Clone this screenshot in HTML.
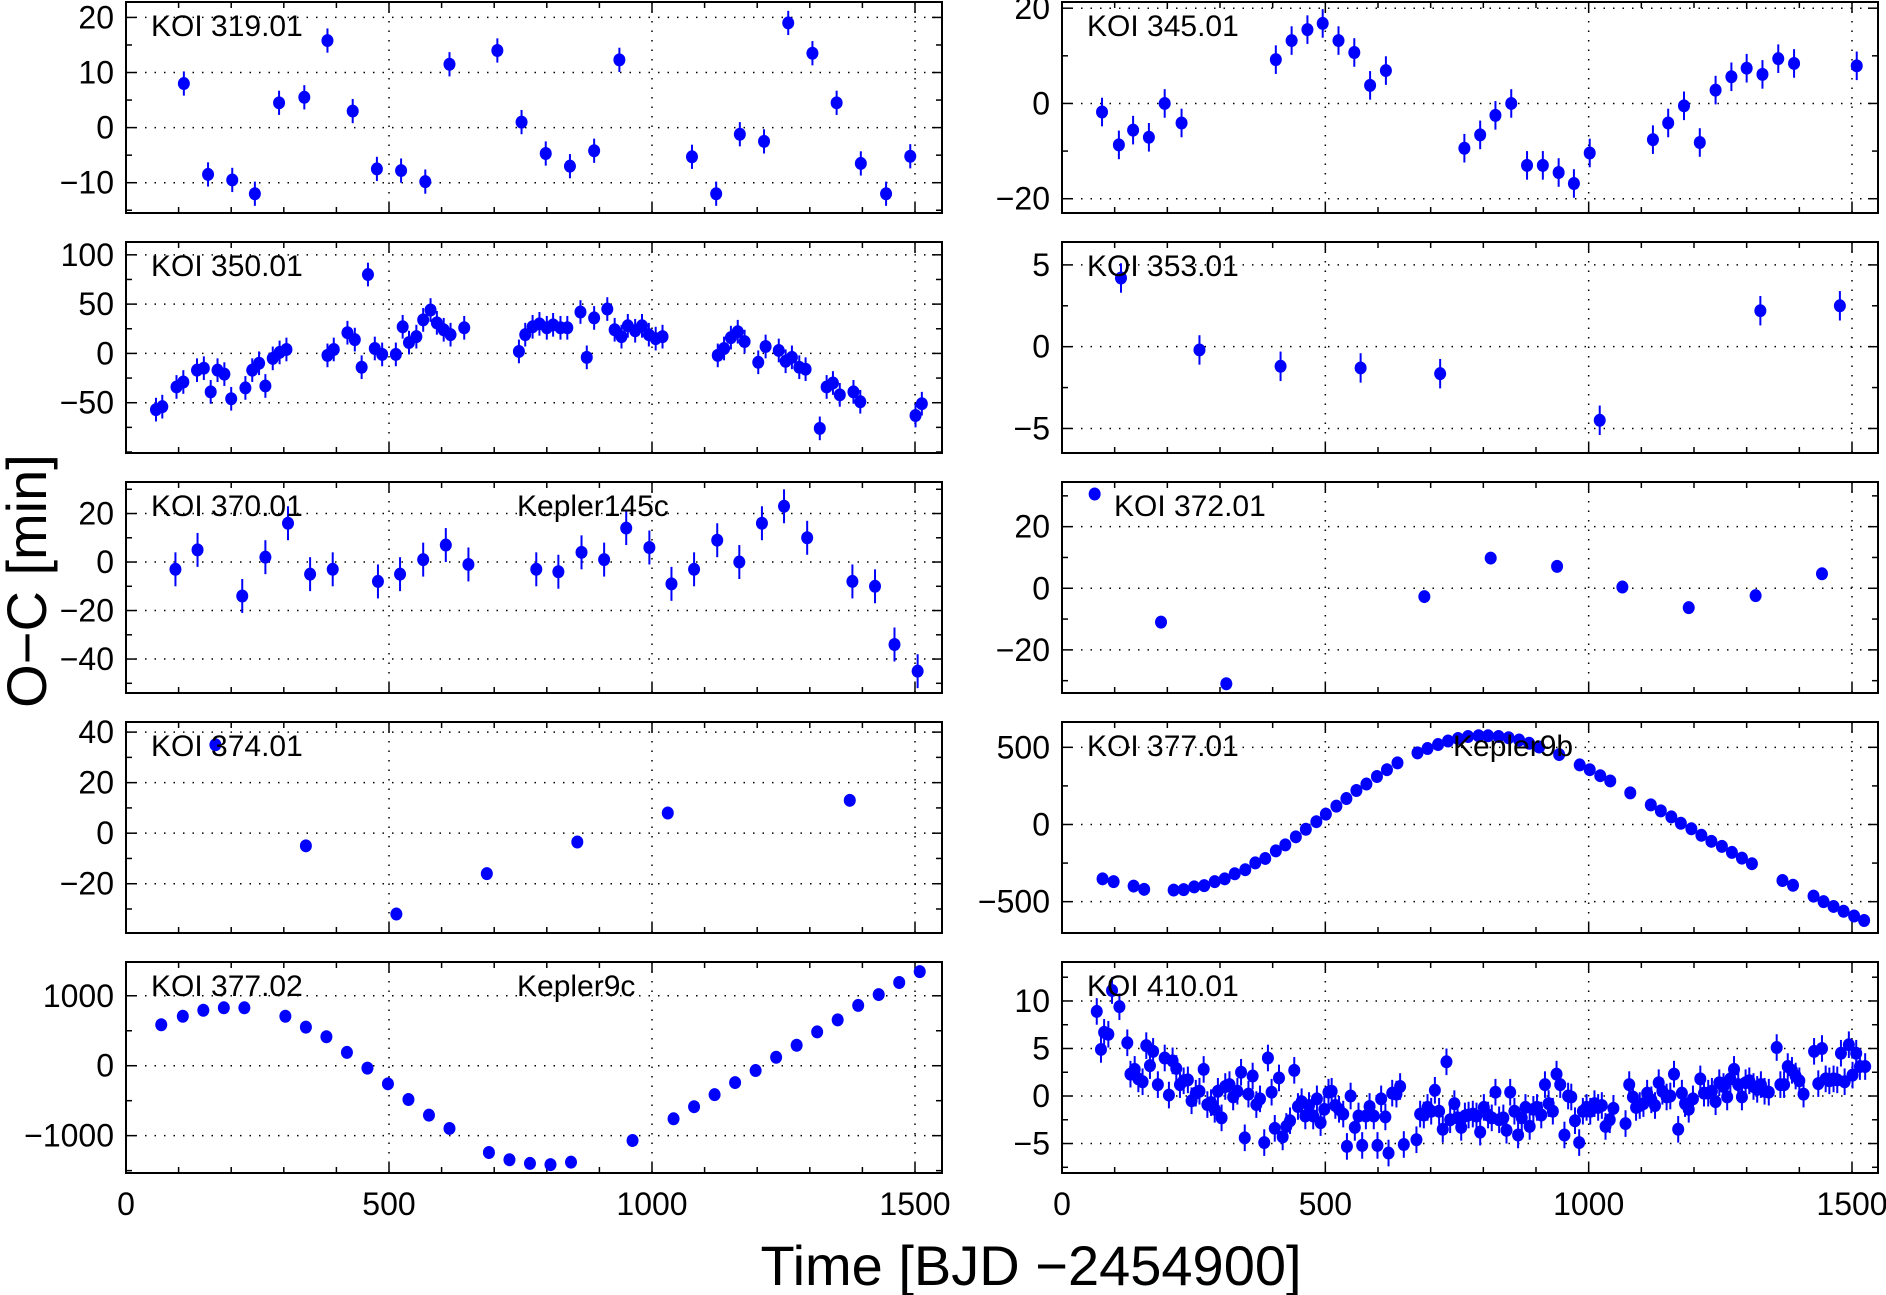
<!DOCTYPE html>
<html><head><meta charset="utf-8"><style>
html,body{margin:0;padding:0;background:#fff;}
svg{display:block;}
text{font-family:"Liberation Sans",sans-serif;fill:#000;}
</style></head><body>
<svg id="chart" width="1886" height="1295" viewBox="0 0 1886 1295" xmlns="http://www.w3.org/2000/svg">
<text x="0" y="0" font-size="56" text-anchor="middle" transform="translate(46,581) rotate(-90)">O−C [min]</text>
<text x="1031" y="1285" font-size="56" text-anchor="middle">Time [BJD −2454900]</text>
</svg>
<script>
// ---- data ----
const t319=[110,156,202,245,291,339,383,431,477,523,569,615,706,752,798,844,890,938,1076,1122,1167,1213,1259,1305,1351,1397,1445,1491];
const v319=[8,-8.5,-9.5,-12,4.5,5.5,15.8,3,-7.5,-7.8,-9.8,11.5,14,1,-4.7,-7,-4.2,12.3,-5.3,-12,-1.2,-2.5,19,13.5,4.5,-6.5,-12,-5.2];
const t350=[57,69,96,109,135,148,161,174,187,200,227,240,253,265,279,292,305,383,395,421,435,448,460,473,487,513,526,538,552,565,579,591,604,617,643,747,759,773,786,800,812,826,839,864,876,890,915,929,942,954,968,981,994,1007,1020,1125,1137,1150,1163,1176,1202,1216,1241,1254,1266,1280,1292,1319,1332,1344,1357,1383,1396,1501,1513];
const v350=[-57,-54,-34,-29,-17,-15,-39,-17,-21,-46,-35,-17,-10,-33,-5,1,4,-2,4,21,14,-14,80,5,-1,-1,27,11,17,34,44,31,24,19,26,2,19,27,30,26,29,26,26,42,-4,36,45,24,17,28,23,28,19,15,17,-2,5,16,22,12,-9,7,3,-8,-4,-14,-16,-76,-34,-30,-42,-39,-49,-63,-51];
const t370=[94,136,221,265,308,350,393,479,521,565,608,651,780,822,866,909,951,995,1037,1080,1124,1166,1209,1251,1295,1381,1424,1461,1505];
const v370=[-3,5,-14,2,16,-5,-3,-8,-5,1,7,-1,-3,-4,4,1,14,6,-9,-3,9,0,16,23,10,-8,-10,-34,-45];
const t374=[170,342,514,686,858,1030,1376];
const v374=[35,-5,-32,-16,-3.5,8,13];
const t377b=[67,108,147,186,225,303,342,381,420,459,498,537,576,615,690,729,768,807,846,963,1041,1080,1119,1158,1197,1236,1275,1314,1353,1392,1431,1470,1509];
const v377b=[586,707,793,828,828,707,552,414,190,-34,-259,-483,-707,-897,-1241,-1345,-1397,-1414,-1379,-1069,-759,-586,-414,-241,-69,121,293,483,655,862,1017,1190,1345];
const t345=[76,108,135,165,195,227,406,436,466,495,525,555,585,615,764,794,823,853,883,913,943,972,1002,1122,1151,1181,1211,1241,1271,1300,1330,1360,1390,1509];
const v345=[-1.8,-8.7,-5.6,-7.1,0,-4.1,9.2,13.2,15.5,16.8,13.2,10.7,3.8,6.9,-9.4,-6.6,-2.5,0,-13,-13,-14.5,-16.8,-10.4,-7.6,-4.1,-0.5,-8.2,2.8,5.6,7.4,6.1,9.4,8.4,7.9];
const t353=[112,261,415,567,718,1021,1326,1477];
const v353=[4.2,-0.2,-1.2,-1.3,-1.65,-4.5,2.2,2.5];
const t372=[62,188,312,688,814,940,1064,1190,1317,1443];
const v372=[30.6,-11,-31,-2.7,9.8,7.1,0.4,-6.3,-2.4,4.7];
const t377a=[77,98,136,156,212,231,251,270,290,309,328,348,367,386,406,424,444,463,483,501,521,540,559,578,598,617,637,675,694,714,733,752,771,791,809,829,848,868,887,906,944,983,1002,1022,1041,1079,1118,1137,1157,1175,1195,1214,1233,1253,1272,1291,1310,1368,1388,1427,1446,1465,1484,1504,1523];
const v377a=[-352,-370,-399,-420,-425,-422,-404,-396,-370,-352,-319,-293,-249,-220,-171,-132,-80,-31,18,67,119,168,220,262,311,355,399,464,492,518,541,557,570,575,575,570,562,547,526,502,453,386,355,316,282,205,127,88,49,8,-28,-70,-109,-142,-181,-218,-254,-363,-394,-464,-500,-531,-562,-593,-622];
const t410=[66,74,80,88,95,109,124,130,138,145,153,160,167,173,182,195,203,210,217,224,231,239,246,254,261,269,276,283,290,296,303,310,318,325,333,340,347,354,362,369,376,384,391,398,404,412,419,426,433,441,448,455,462,469,477,484,491,498,506,512,519,526,534,541,548,556,563,570,577,584,592,599,606,614,620,627,635,642,649,673,680,687,694,701,708,716,723,730,737,745,751,758,765,772,780,787,794,801,809,816,823,830,838,844,851,859,866,873,880,888,895,902,910,917,924,932,939,946,954,961,967,974,982,989,996,1003,1011,1018,1025,1032,1040,1047,1070,1077,1084,1090,1097,1104,1111,1119,1126,1133,1140,1148,1155,1162,1170,1177,1183,1190,1198,1212,1219,1227,1234,1241,1248,1256,1263,1269,1276,1284,1291,1298,1305,1313,1320,1327,1334,1342,1357,1364,1371,1378,1386,1393,1400,1408,1428,1436,1443,1450,1457,1465,1472,1479,1486,1494,1501,1508,1515,1525];
const v410=[8.9,4.9,6.7,6.5,11.1,9.4,5.6,2.3,2.8,1.8,1.5,5.3,3.2,4.7,1.2,4.0,0.1,3.7,2.9,1.2,1.6,1.7,-0.5,0.3,0.5,2.8,-0.9,-0.7,-1.4,0.5,-2.3,1.0,1.2,-0.1,0.5,2.5,-4.4,0.2,2.1,-0.9,-0.3,-4.9,4.0,0.4,-3.4,1.9,-4.3,-3.2,-2.6,2.7,-1.1,-0.6,-2.1,-1.0,-2.1,-0.3,-2.8,-1.4,0.4,0.5,-1.0,-1.4,-1.9,-5.3,0,-3.3,-2.1,-5.2,-2.1,-1.1,-2.1,-5.2,-0.3,-2.2,-6.0,0.3,0.2,1.0,-5.1,-4.6,-1.9,-2.0,-1.2,-1.6,0.6,-1.6,-3.5,3.6,-2.5,-0.8,-2.3,-3.3,-2.1,-2.0,-1.9,-2.1,-3.8,-1.2,-2.0,-2.3,0.4,-2.5,-2.3,-3.6,0.4,-1.6,-4.1,-2.3,-1.2,-3.2,-1.4,-1.2,-2.0,1.2,-0.8,-1.6,2.3,1.2,-4.1,0,-0.1,-2.6,-4.9,-1.6,-1.2,-1.6,-0.8,-1.2,-1.0,-3.2,-2.5,-1.3,-2.9,1.2,-0.1,-1.2,-1.0,-0.8,0.3,-0.4,-1.0,1.4,0.5,-0.1,0,2.3,-3.5,0.3,-0.8,-1.4,-0.3,1.8,0.3,0.3,0.5,-0.6,1.4,1.0,-0.1,1.8,2.8,1.2,-0.1,1.4,1.6,1.0,0.7,1.2,0.5,0.4,5.1,1.2,1.2,3.1,2.7,2.1,1.6,0.2,4.7,1.3,5.0,1.8,1.6,1.8,1.7,4.5,1.5,5.4,2.2,4.5,3.1,3.1];
const xTickLabels=["0","500","1000","1500"];
const xTickValues=[0,500,1000,1500];

const panels=[
 {id:"koi-319-01",label:"KOI 319.01",col:0,row:0,t:t319,v:v319,ymin:-15.5,ymax:22.8,ticks:[-10,0,10,20],minor:5,err:2.2},
 {id:"koi-350-01",label:"KOI 350.01",col:0,row:1,t:t350,v:v350,ymin:-101,ymax:113,ticks:[-50,0,50,100],minor:25,err:12},
 {id:"koi-370-01",label:"KOI 370.01",col:0,row:2,t:t370,v:v370,ymin:-54,ymax:33,ticks:[-40,-20,0,20],minor:10,err:7,name:"Kepler145c"},
 {id:"koi-374-01",label:"KOI 374.01",col:0,row:3,t:t374,v:v374,ymin:-39.5,ymax:44,ticks:[-20,0,20,40],minor:10,err:2.2},
 {id:"koi-377-02",label:"KOI 377.02",col:0,row:4,t:t377b,v:v377b,ymin:-1534,ymax:1483,ticks:[-1000,0,1000],minor:500,err:0,name:"Kepler9c"},
 {id:"koi-345-01",label:"KOI 345.01",col:1,row:0,t:t345,v:v345,ymin:-23,ymax:21.3,ticks:[-20,0,20],minor:10,err:3},
 {id:"koi-353-01",label:"KOI 353.01",col:1,row:1,t:t353,v:v353,ymin:-6.5,ymax:6.4,ticks:[-5,0,5],minor:2.5,err:0.9},
 {id:"koi-372-01",label:"KOI 372.01",col:1,row:2,t:t372,v:v372,ymin:-34,ymax:34.5,ticks:[-20,0,20],minor:10,err:0,labelDx:27},
 {id:"koi-377-01",label:"KOI 377.01",col:1,row:3,t:t377a,v:v377a,ymin:-703,ymax:664,ticks:[-500,0,500],minor:250,err:0,name:"Kepler9b"},
 {id:"koi-410-01",label:"KOI 410.01",col:1,row:4,t:t410,v:v410,ymin:-8.1,ymax:14.1,ticks:[-5,0,5,10],minor:2.5,err:1.4}
];

const NS="http://www.w3.org/2000/svg";
const svg=document.getElementById("chart");
const colLeft=[126,1062], colRight=[942,1878];
const rowTop=[2,242,482,722,962], rowH=211;
function mk(tag,attrs,parent){const e=document.createElementNS(NS,tag);for(const k in attrs)e.setAttribute(k,attrs[k]);parent.appendChild(e);return e;}

panels.forEach(p=>{
  const L=colLeft[p.col], R=colRight[p.col], T=rowTop[p.row], B=T+rowH;
  const sx=(L+ (colLeft[p.col]===126?915:1852) - L);
  const x0=L, x1500=(p.col===0?915:1852);
  const xs=t=>x0+(t/1500)*(x1500-x0);
  const ys=v=>B-(v-p.ymin)/(p.ymax-p.ymin)*rowH;
  const g=mk("g",{},svg);
  
  
  // grid
  xTickValues.forEach(tv=>{ if(tv>0){ mk("line",{x1:xs(tv),x2:xs(tv),y1:T,y2:B,stroke:"#000","stroke-width":1.5,"stroke-dasharray":"1.5 8"},g);} });
  p.ticks.forEach(tv=>{ mk("line",{x1:L,x2:R,y1:ys(tv),y2:ys(tv),stroke:"#000","stroke-width":1.5,"stroke-dasharray":"1.5 8"},g); });
  // x ticks
  for(let tv=0;tv<=1550;tv+=100){
    const X=xs(tv), len=(tv%500===0)?10:6;
    mk("line",{x1:X,x2:X,y1:B,y2:B-len,stroke:"#000","stroke-width":1.5},g);
    mk("line",{x1:X,x2:X,y1:T,y2:T+len,stroke:"#000","stroke-width":1.5},g);
  }
  // y ticks
  const start=Math.ceil(p.ymin/p.minor)*p.minor;
  for(let tv=start;tv<=p.ymax;tv+=p.minor){
    const Y=ys(tv), maj=p.ticks.indexOf(tv)>=0, len=maj?10:6;
    mk("line",{x1:L,x2:L+len,y1:Y,y2:Y,stroke:"#000","stroke-width":1.5},g);
    mk("line",{x1:R,x2:R-len,y1:Y,y2:Y,stroke:"#000","stroke-width":1.5},g);
  }
  p.ticks.forEach(tv=>{
    const tx=mk("text",{x:L-12,y:ys(tv)+11,"font-size":32,"text-anchor":"end"},g);
    tx.textContent=(tv<0?"−"+Math.abs(tv):String(tv));
    
    
  });
  // frame
  const fr=mk("rect",{x:L,y:T,width:R-L,height:rowH,fill:"none",stroke:"#000","stroke-width":2},g);
  
  
  // points
  p.t.forEach((tv,i)=>{
    const X=xs(tv), Y=ys(p.v[i]);
    if(p.err>0){
      const eb=mk("line",{x1:X,x2:X,y1:ys(p.v[i]+p.err),y2:ys(p.v[i]-p.err),stroke:"#0000ff","stroke-width":2},g);
      
      
    }
    const c=mk("ellipse",{cx:X,cy:Y,rx:6,ry:6.5,fill:"#0000ff"},g);
    
    
  });
  const lb=mk("text",{x:L+25+(p.labelDx||0),y:T+34,"font-size":30},g);
  lb.textContent=p.label;
  
  
  if(p.name){
    const nm=mk("text",{x:xs(p.col===0?746:745)+ (p.col===0?0:0),y:T+34,"font-size":30},g);
    nm.setAttribute("x", p.col===0?517:1453);
    nm.textContent=p.name;
    
    
  }
  if(p.row===4){
    xTickValues.forEach((tv,i)=>{
      const tx=mk("text",{x:xs(tv),y:1215,"font-size":32,"text-anchor":"middle"},svg);
      tx.textContent=xTickLabels[i];
      
      
    });
  }
});
</script>
</body></html>
